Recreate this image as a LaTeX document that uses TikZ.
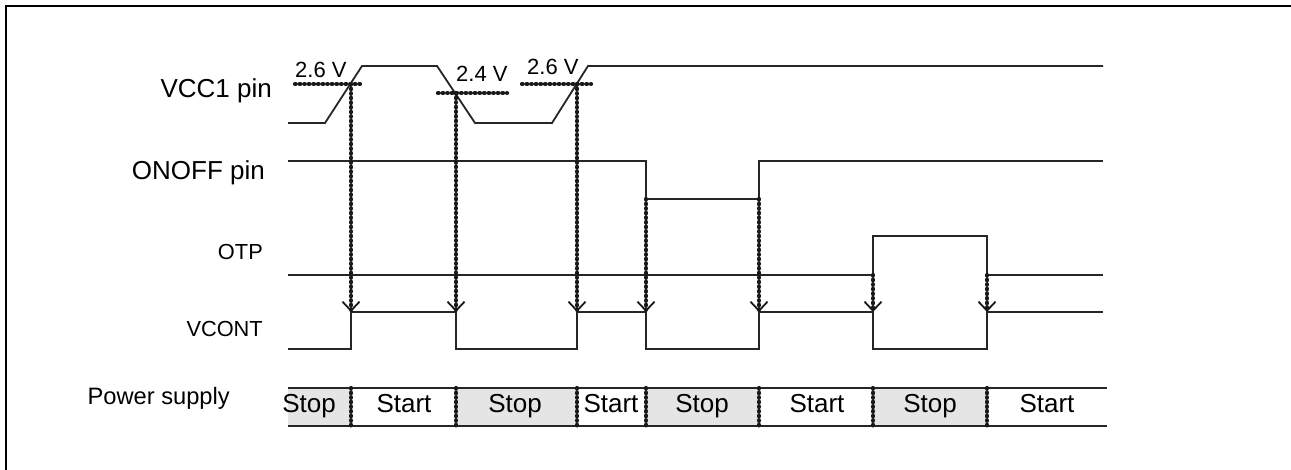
\documentclass[tikz,border=0pt]{standalone}
\usepackage{fontspec}
\setmainfont{Liberation Sans}
\usetikzlibrary{arrows.meta}

\tikzset{
  wave/.style={line width=1.8pt, black!85},
  beads/.style={line width=4.2pt, black!90, dash pattern=on 0.6pt off 4pt, line cap=round},
  trig/.style={beads, -{Straight Barb[length=9pt, width=17pt, line width=1.8pt]}},
  siglabel/.style={inner sep=0pt, anchor=base east, font=\fontsize{26}{30}\selectfont},
  smalllabel/.style={inner sep=0pt, anchor=base east, font=\fontsize{21.8}{26}\selectfont},
  volt/.style={inner sep=0pt, anchor=base west, font=\fontsize{22}{26}\selectfont},
  state/.style={inner sep=0pt, anchor=base, font=\fontsize{26}{30}\selectfont},
  stopfill/.style={fill=black!10}
}

\begin{document}
\begin{tikzpicture}[x=1pt, y=-1pt]
  \useasboundingbox (0,0) rectangle (1291,470);

  % Frame
  \draw[line width=2pt] (6,470) -- (6,6) -- (1291,6);

  % Signal names
  \node[siglabel] (vcc) at (272,98) {VCC1 pin};
  \node[siglabel] (onoff) at (265,180) {ONOFF pin};
  \node[smalllabel] (otp) at (263,260) {OTP};
  \node[smalllabel] (vcont) at (263,337) {VCONT};
  \node[inner sep=0pt, anchor=base east, font=\fontsize{23.7}{28}\selectfont] (power) at (230,404) {Power supply};

  % Define trigger points
  \coordinate (t1) at (351,84);
  \coordinate (t2) at (456,93);
  \coordinate (t3) at (577,84);
  \coordinate (t4) at (646,199);
  \coordinate (t5) at (759,199);
  \coordinate (t6) at (873,275);
  \coordinate (t7) at (987,275);
  \coordinate (c1) at (351,312);
  \coordinate (c2) at (456,312);
  \coordinate (c3) at (577,312);
  \coordinate (c4) at (646,312);
  \coordinate (c5) at (759,312);
  \coordinate (c6) at (873,312);
  \coordinate (c7) at (987,312);

  % Power supply states
  \fill[stopfill] (288,388) rectangle (351,426);
  \fill[stopfill] (456,388) rectangle (577,426);
  \fill[stopfill] (646,388) rectangle (759,426);
  \fill[stopfill] (873,388) rectangle (987,426);
  \draw[wave] (288,388) -- (1107,388);
  \draw[wave] (288,426) -- (1107,426);
  \node[state] (s1) at (309,413) {Stop};
  \node[state] (s2) at (404,413) {Start};
  \node[state] (s3) at (515,413) {Stop};
  \node[state] (s4) at (611,413) {Start};
  \node[state] (s5) at (702,413) {Stop};
  \node[state] (s6) at (817,413) {Start};
  \node[state] (s7) at (930,413) {Stop};
  \node[state] (s8) at (1047,413) {Start};

  % Waveforms
  \draw[wave] (288,123) -- (325,123) -- (362,66) -- (437,66) -- (475,123)
    -- (552,123) -- (588,66) -- (1103,66);
  \draw[wave] (288,161) -- (646,161) -- (646,199) -- (759,199) -- (759,161) -- (1103,161);
  \draw[wave] (288,275) -- (873,275) -- (873,236) -- (987,236) -- (987,275) -- (1103,275);
  \draw[wave] (288,349) -- (351,349) -- (351,312) -- (456,312) -- (456,349) -- (577,349)
    -- (577,312) -- (646,312) -- (646,349) -- (759,349) -- (759,312) -- (873,312)
    -- (873,349) -- (987,349) -- (987,312) -- (1103,312);

  % Thresholds
  \draw[beads] (295,84) -- (363,84);
  \draw[beads] (438,93) -- (507,93);
  \draw[beads] (522,84) -- (591,84);
  \node[volt] (th1) at (295,78) {2.6 V};
  \node[volt] (th2) at (456,82) {2.4 V};
  \node[volt] (th3) at (527,75) {2.6 V};

  % Triggers
  \draw[trig] (t1) -- (c1);
  \draw[trig] (t2) -- (c2);
  \draw[trig] (t3) -- (c3);
  \draw[trig] (t4) -- (c4);
  \draw[trig] (t5) -- (c5);
  \draw[trig] (t6) -- (c6);
  \draw[trig] (t7) -- (c7);

  % Dividers
  \draw[beads] (351,388) -- (351,426);
  \draw[beads] (456,388) -- (456,426);
  \draw[beads] (577,388) -- (577,426);
  \draw[beads] (646,388) -- (646,426);
  \draw[beads] (759,388) -- (759,426);
  \draw[beads] (873,388) -- (873,426);
  \draw[beads] (987,388) -- (987,426);
\end{tikzpicture}
\end{document}
